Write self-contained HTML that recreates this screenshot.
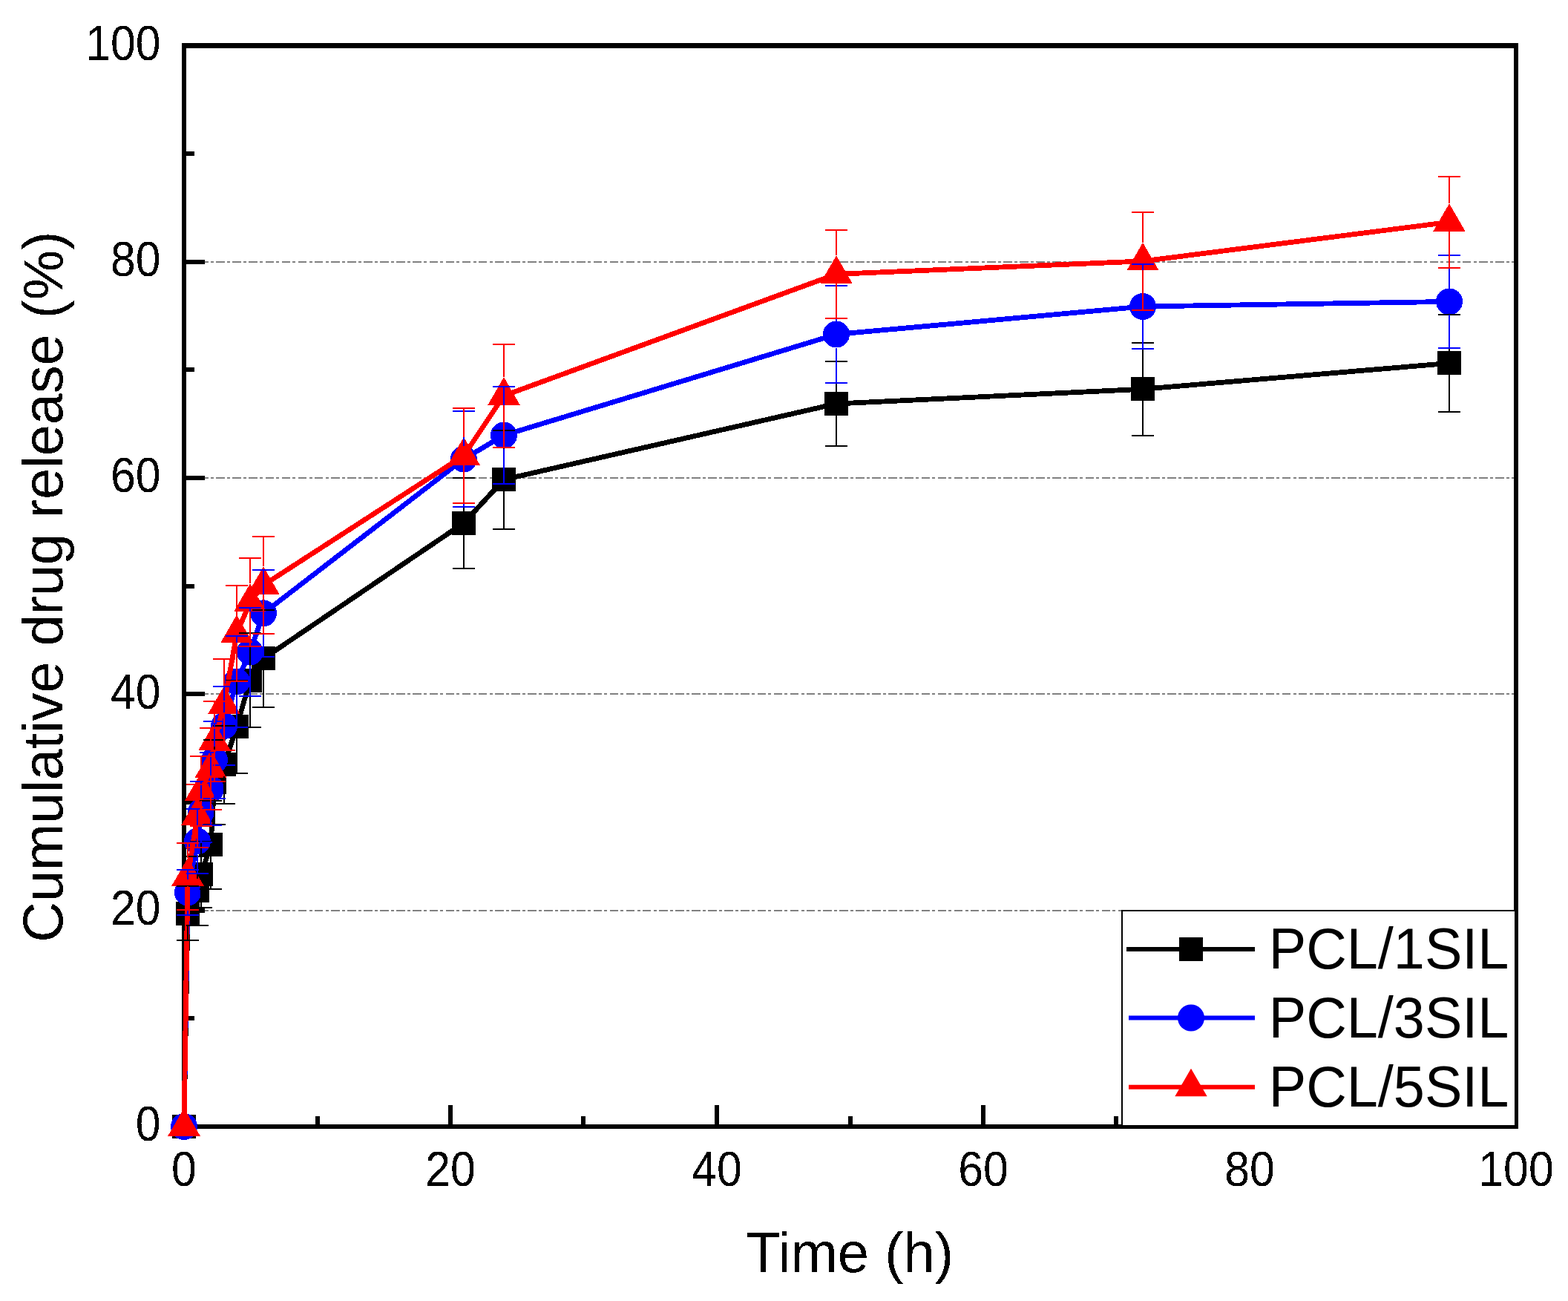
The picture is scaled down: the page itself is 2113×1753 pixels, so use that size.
<!DOCTYPE html>
<html><head><meta charset="utf-8"><title>Cumulative drug release</title>
<style>
html,body{margin:0;padding:0;background:#fff;}
body{width:2113px;height:1753px;overflow:hidden;}
svg{display:block;}
</style></head><body>
<svg width="2113" height="1753" viewBox="0 0 2113 1753" font-family="'Liberation Sans', Arial, Helvetica, sans-serif">
<defs><filter id="bin" x="0" y="0" width="2113" height="1753" filterUnits="userSpaceOnUse"><feComponentTransfer><feFuncA type="discrete" tableValues="0 1"/></feComponentTransfer></filter></defs>
<line x1="251" y1="1227" x2="2040" y2="1227" stroke="#808080" stroke-width="2" stroke-dasharray="11.6 3.25 4 3.25" stroke-dashoffset="4" shape-rendering="crispEdges"/>
<line x1="251" y1="935" x2="2040" y2="935" stroke="#808080" stroke-width="2" stroke-dasharray="11.6 3.25 4 3.25" stroke-dashoffset="4" shape-rendering="crispEdges"/>
<line x1="251" y1="644" x2="2040" y2="644" stroke="#808080" stroke-width="2" stroke-dasharray="11.6 3.25 4 3.25" stroke-dashoffset="4" shape-rendering="crispEdges"/>
<line x1="251" y1="353" x2="2040" y2="353" stroke="#808080" stroke-width="2" stroke-dasharray="11.6 3.25 4 3.25" stroke-dashoffset="4" shape-rendering="crispEdges"/>
<path d="M245 58H2046V65H245ZM245 1515H2046V1521H245ZM245 58H251V1521H245ZM2040 58H2046V1521H2040Z" fill="#000"/>
<path d="M428 1518V1504M607 1518V1489M786 1518V1504M966 1518V1489M1146 1518V1504M1325 1518V1489M1504 1518V1504M248 1372H262M248 1227H276M248 1081H262M248 935H276M248 790H262M248 644H276M248 498H262M248 353H276M248 207H262" stroke="#000" stroke-width="6" fill="none"/>
<g shape-rendering="crispEdges">
<polyline points="248,1518 253,1230.5 266,1200.4 271,1178.4 284,1138.4 289,1054 302,1030.4 319,979.3 337,916.5 355,887.4 625,704.7 679,646.2 1127,544 1540,524.3 1953,489.4" fill="none" stroke="#000" stroke-width="6.8" stroke-linejoin="miter" stroke-miterlimit="3"/>
<rect x="232" y="1502" width="32" height="32" fill="#000"/>
<rect x="237" y="1214.5" width="32" height="32" fill="#000"/>
<rect x="250" y="1184.4" width="32" height="32" fill="#000"/>
<rect x="255" y="1162.4" width="32" height="32" fill="#000"/>
<rect x="268" y="1122.4" width="32" height="32" fill="#000"/>
<rect x="273" y="1038" width="32" height="32" fill="#000"/>
<rect x="286" y="1014.4" width="32" height="32" fill="#000"/>
<rect x="303" y="963.3" width="32" height="32" fill="#000"/>
<rect x="321" y="900.5" width="32" height="32" fill="#000"/>
<rect x="339" y="871.4" width="32" height="32" fill="#000"/>
<rect x="609" y="688.7" width="32" height="32" fill="#000"/>
<rect x="663" y="630.2" width="32" height="32" fill="#000"/>
<rect x="1111" y="528" width="32" height="32" fill="#000"/>
<rect x="1524" y="508.3" width="32" height="32" fill="#000"/>
<rect x="1937" y="473.4" width="32" height="32" fill="#000"/>
<polyline points="248,1518 253,1202.5 266,1133.5 271,1094 284,1063.2 289,1023.8 302,978 319,918.4 337,878.5 355,826.3 625,618.5 679,586.5 1127,450.5 1540,413 1953,406.4" fill="none" stroke="#00f" stroke-width="6.8" stroke-linejoin="miter" stroke-miterlimit="3"/>
<circle cx="248" cy="1518" r="18" fill="#00f"/>
<circle cx="253" cy="1202.5" r="18" fill="#00f"/>
<circle cx="266" cy="1133.5" r="18" fill="#00f"/>
<circle cx="271" cy="1094" r="18" fill="#00f"/>
<circle cx="284" cy="1063.2" r="18" fill="#00f"/>
<circle cx="289" cy="1023.8" r="18" fill="#00f"/>
<circle cx="302" cy="978" r="18" fill="#00f"/>
<circle cx="319" cy="918.4" r="18" fill="#00f"/>
<circle cx="337" cy="878.5" r="18" fill="#00f"/>
<circle cx="355" cy="826.3" r="18" fill="#00f"/>
<circle cx="625" cy="618.5" r="18" fill="#00f"/>
<circle cx="679" cy="586.5" r="18" fill="#00f"/>
<circle cx="1127" cy="450.5" r="18" fill="#00f"/>
<circle cx="1540" cy="413" r="18" fill="#00f"/>
<circle cx="1953" cy="406.4" r="18" fill="#00f"/>
<polyline points="248,1518 253,1181 266,1099.3 271,1066 284,1035.8 289,998.7 302,949.3 319,853.5 337,811.4 355,788.4 625,614 679,533.2 1127,369.4 1540,351.9 1953,299.3" fill="none" stroke="#f00" stroke-width="6.8" stroke-linejoin="miter" stroke-miterlimit="3"/>
<polygon points="248,1492.94 226.3,1530.53 269.7,1530.53" fill="#f00"/>
<polygon points="253,1155.94 231.3,1193.53 274.7,1193.53" fill="#f00"/>
<polygon points="266,1074.24 244.3,1111.83 287.7,1111.83" fill="#f00"/>
<polygon points="271,1040.94 249.3,1078.53 292.7,1078.53" fill="#f00"/>
<polygon points="284,1010.74 262.3,1048.33 305.7,1048.33" fill="#f00"/>
<polygon points="289,973.64 267.3,1011.23 310.7,1011.23" fill="#f00"/>
<polygon points="302,924.24 280.3,961.83 323.7,961.83" fill="#f00"/>
<polygon points="319,828.44 297.3,866.03 340.7,866.03" fill="#f00"/>
<polygon points="337,786.34 315.3,823.93 358.7,823.93" fill="#f00"/>
<polygon points="355,763.34 333.3,800.93 376.7,800.93" fill="#f00"/>
<polygon points="625,588.94 603.3,626.53 646.7,626.53" fill="#f00"/>
<polygon points="679,508.14 657.3,545.73 700.7,545.73" fill="#f00"/>
<polygon points="1127,344.34 1105.3,381.93 1148.7,381.93" fill="#f00"/>
<polygon points="1540,326.84 1518.3,364.43 1561.7,364.43" fill="#f00"/>
<polygon points="1953,274.24 1931.3,311.83 1974.7,311.83" fill="#f00"/>
<path d="M253 1214.5V1193M253 1246.5V1268M238 1194H268M238 1267H268M266 1184.4V1153M266 1216.4V1248M251 1154H281M251 1247H281M271 1162.4V1133M271 1194.4V1224M256 1134H286M256 1223H286M284 1122.4V1078M284 1154.4V1199M269 1079H299M269 1198H299M289 1038V996M289 1070V1112M274 997H304M274 1111H304M302 1014.4V977M302 1046.4V1084M287 978H317M287 1083H317M319 963.3V916M319 995.3V1043M304 917H334M304 1042H334M337 900.5V852M337 932.5V981M322 853H352M322 980H352M355 871.4V821M355 903.4V954M340 822H370M340 953H370M625 688.7V643M625 720.7V767M610 644H640M610 766H640M679 630.2V579M679 662.2V714M664 580H694M664 713H694M1127 528V486M1127 560V602M1112 487H1142M1112 601H1142M1540 508.3V461M1540 540.3V588M1525 462H1555M1525 587H1555M1953 473.4V423M1953 505.4V556M1938 424H1968M1938 555H1968" fill="none" stroke="#000" stroke-width="2"/>
<path d="M253 1184.5V1171M253 1220.5V1234M238 1172H268M238 1233H268M266 1115.5V1089M266 1151.5V1178M251 1090H281M251 1177H281M271 1076V1052M271 1112V1136M256 1053H286M256 1135H286M284 1045.2V1013M284 1081.2V1113M269 1014H299M269 1112H299M289 1005.8V971M289 1041.8V1077M274 972H304M274 1076H304M302 960V924M302 996V1032M287 925H317M287 1031H317M319 900.4V856M319 936.4V981M304 857H334M304 980H334M337 860.5V818M337 896.5V939M322 819H352M322 938H352M355 808.3V767M355 844.3V886M340 768H370M340 885H370M625 600.5V553M625 636.5V684M610 554H640M610 683H640M679 568.5V520M679 604.5V653M664 521H694M664 652H694M1127 432.5V384M1127 468.5V517M1112 385H1142M1112 516H1142M1540 395V355M1540 431V471M1525 356H1555M1525 470H1555M1953 388.4V343M1953 424.4V470M1938 344H1968M1938 469H1968" fill="none" stroke="#00f" stroke-width="2"/>
<path d="M253 1156V1135M253 1193.5V1227M238 1136H268M238 1226H268M266 1074.3V1056M266 1111.8V1143M251 1057H281M251 1142H281M271 1041V1018M271 1078.5V1114M256 1019H286M256 1113H286M284 1010.8V980M284 1048.3V1092M269 981H299M269 1091H299M289 973.7V944M289 1011.2V1054M274 945H304M274 1053H304M302 924.3V887M302 961.8V1012M287 888H317M287 1011H317M319 828.5V788M319 866V919M304 789H334M304 918H334M337 786.4V751M337 823.9V872M322 752H352M322 871H352M355 763.4V722M355 800.9V855M340 723H370M340 854H370M625 589V549M625 626.5V679M610 550H640M610 678H640M679 508.2V463M679 545.7V604M664 464H694M664 603H694M1127 344.4V309M1127 381.9V430M1112 310H1142M1112 429H1142M1540 326.9V285M1540 364.4V419M1525 286H1555M1525 418H1555M1953 274.3V237M1953 311.8V362M1938 238H1968M1938 361H1968" fill="none" stroke="#f00" stroke-width="2"/>
</g>
<rect x="1512" y="1227" width="530" height="290" fill="#fff" stroke="#000" stroke-width="2"/>
<line x1="1518" y1="1279" x2="1691" y2="1279" stroke="#000" stroke-width="6"/>
<rect x="1589" y="1263" width="32" height="32" fill="#000"/>
<text transform="translate(1709.8 1305) scale(0.982 1)" font-size="77" fill="#000">PCL/1SIL</text>
<line x1="1521" y1="1371.5" x2="1691" y2="1371.5" stroke="#00f" stroke-width="6"/>
<circle cx="1605" cy="1371.5" r="18" fill="#00f"/>
<text transform="translate(1709.8 1397.5) scale(0.982 1)" font-size="77" fill="#000">PCL/3SIL</text>
<line x1="1521" y1="1464.7" x2="1691" y2="1464.7" stroke="#f00" stroke-width="6"/>
<polygon points="1605,1439.64 1583.3,1477.23 1626.7,1477.23" fill="#f00"/>
<text transform="translate(1709.8 1490.7) scale(0.982 1)" font-size="77" fill="#000">PCL/5SIL</text>
<g filter="url(#bin)">
<text transform="translate(248 1597.5) scale(0.92 1)" font-size="66" text-anchor="middle">0</text>
<text transform="translate(607 1597.5) scale(0.92 1)" font-size="66" text-anchor="middle">20</text>
<text transform="translate(966 1597.5) scale(0.92 1)" font-size="66" text-anchor="middle">40</text>
<text transform="translate(1325 1597.5) scale(0.92 1)" font-size="66" text-anchor="middle">60</text>
<text transform="translate(1684 1597.5) scale(0.92 1)" font-size="66" text-anchor="middle">80</text>
<text transform="translate(2043 1597.5) scale(0.92 1)" font-size="66" text-anchor="middle">100</text>
<text transform="translate(216.5 1537.3) scale(0.92 1)" font-size="66" text-anchor="end">0</text>
<text transform="translate(216.5 1246) scale(0.92 1)" font-size="66" text-anchor="end">20</text>
<text transform="translate(216.5 954.7) scale(0.92 1)" font-size="66" text-anchor="end">40</text>
<text transform="translate(216.5 663.4) scale(0.92 1)" font-size="66" text-anchor="end">60</text>
<text transform="translate(216.5 372.1) scale(0.92 1)" font-size="66" text-anchor="end">80</text>
<text transform="translate(216.5 80.8) scale(0.92 1)" font-size="66" text-anchor="end">100</text>
<text x="1145" y="1714" font-size="76" text-anchor="middle">Time (h)</text>
<text transform="translate(84 790.6) rotate(-90)" x="0" y="0" font-size="75.6" text-anchor="middle">Cumulative drug release (%)</text>
</g>
</svg>
</body></html>
